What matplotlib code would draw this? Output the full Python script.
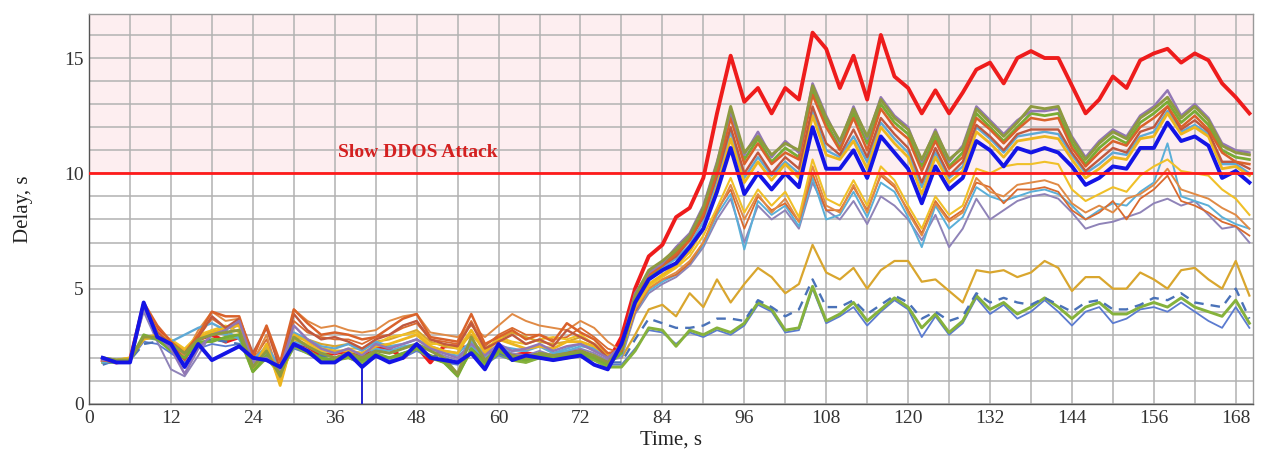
import matplotlib
matplotlib.use("Agg")
import matplotlib.pyplot as plt
import numpy as np

plt.rcParams['font.family'] = ['Liberation Serif', 'DejaVu Serif']

# ---- data ----
time_pre = [2, 4, 6, 8, 10, 12, 14, 16, 18, 20, 22, 24, 26, 28, 30, 32, 34, 36, 38, 40,
            42, 44, 46, 48, 50, 52, 54, 56, 58, 60, 62, 64, 66, 68, 70, 72, 74, 76]
time_att = [78, 80, 82, 84, 86, 88, 90, 92, 94, 96, 98, 100, 102, 104, 106, 108, 110, 112,
            114, 116, 118, 120, 122, 124, 126, 128, 130, 132, 134, 136, 138, 140, 142, 144,
            146, 148, 150, 152, 154, 156, 158, 160, 162, 164, 166, 168, 170]
time = time_pre + time_att

red_pre = [1.9,1.8,1.9,4.3,3.2,2.7,2.0,2.8,3.0,2.7, 2.9,2.1,2.2,1.4,2.7,2.5,2.1,2.2,2.3,2.0,
           2.5,2.4,2.0,2.5,1.8,2.5,2.5,2.4,1.9,2.5, 2.1,2.2,2.1,2.1,2.2,2.3,2.0,1.8]
red_att = [2.9,5.0,6.4,6.9,8.1,8.5,9.8,12.6,15.1,13.1, 13.7,12.6,13.7,13.2,16.1,15.4,13.7,15.1,
           13.2,16.0, 14.2,13.7,12.6,13.6,12.6,13.5,14.5,14.8,13.9,15.0, 15.3,15.0,15.0,13.8,
           12.6,13.2,14.2,13.7,14.9,15.2, 15.4,14.8,15.2,14.9,13.9,13.3,12.6]

blue_pre = [2.0,1.8,1.8,4.4,2.9,2.6,1.6,2.6,1.9,2.2, 2.5,2.0,1.9,1.6,2.6,2.3,1.8,1.8,2.2,1.6,
            2.1,1.8,2.0,2.6,2.0,1.9,1.8,2.2,1.5,2.6, 1.9,2.1,2.0,1.9,2.0,2.1,1.7,1.5]
blue_att = [2.6,4.4,5.4,5.8,6.1,6.8,7.6,9.2,11.1,9.1, 10.0,9.3,10.0,9.4,12.0,10.2,10.2,11.0,9.8,
            11.6, 10.9,10.2,8.7,10.3,9.3,9.8,11.4,11.0,10.3,11.1, 10.9,11.1,10.9,10.3,9.5,9.8,
            10.3,10.2,11.1,11.1, 12.2,11.4,11.6,11.2,9.8,10.1,9.6]

olive_pre = [2.0,1.9,1.9,2.9,2.9,2.6,2.2,2.8,3.0,3.1, 3.2,1.6,2.3,1.2,2.9,2.5,2.2,2.0,2.2,2.0,
             2.3,2.2,2.4,2.6,2.3,2.0,1.3,2.9,1.9,2.4, 2.1,2.0,2.2,2.1,2.2,2.3,2.1,1.8]
olive_att = [2.4,4.7,5.8,6.2,6.7,7.3,8.5,10.4,12.9,10.9, 11.6,10.8,11.3,11.0,13.8,12.4,11.4,12.8,
             11.6,13.2, 12.4,11.9,10.6,11.8,10.6,11.1,12.8,12.2,11.6,12.2, 12.9,12.8,12.9,11.5,
             10.6,11.3,11.8,11.5,12.4,12.8, 13.3,12.4,12.9,12.3,11.2,10.9,10.8]

purple_pre = [1.9,1.9,1.9,4.2,3.0,2.4,1.3,2.4,3.0,3.2, 3.6,1.8,2.0,1.5,3.4,2.8,2.4,2.2,2.4,2.1,
              2.6,2.4,2.6,2.8,2.4,2.2,2.0,2.6,2.1,2.6, 2.3,2.4,2.6,2.3,2.5,2.6,2.3,2.0]
purple_att = [2.5,4.8,5.7,6.1,6.8,7.4,8.6,10.5,12.7,10.8, 11.8,10.7,11.4,10.9,13.9,12.5,11.3,12.9,
              11.5,13.3, 12.5,12.0,10.5,11.9,10.5,11.2,12.9,12.3,11.7,12.3, 12.7,12.7,12.8,11.6,
              10.7,11.4,11.9,11.6,12.5,12.9, 13.6,12.5,13.0,12.4,11.3,11.0,10.9]

orange_pre = [1.9,1.8,1.9,4.4,3.4,2.7,2.2,3.0,4.0,3.8, 3.8,2.0,3.4,1.8,4.1,3.5,3.0,3.1,3.0,2.8,
              2.9,3.3,3.7,3.9,2.9,2.8,2.7,3.9,2.6,2.9, 3.2,2.8,3.0,2.7,3.5,3.1,2.8,2.2]
orange_att = [2.3,4.6,5.6,6.0,6.5,7.1,8.2,10.0,12.4,10.4, 11.3,10.4,10.9,10.6,13.4,12.0,11.0,12.4,
              11.0,12.8, 12.0,11.5,10.1,11.4,10.2,10.7,12.4,11.9,11.3,11.9, 12.4,12.3,12.4,11.1,
              10.3,10.9,11.4,11.2,12.0,12.4, 12.9,12.0,12.5,11.9,10.9,10.5,10.4]

green_pre = [2.0,1.9,1.9,3.0,2.8,2.3,2.0,2.7,2.7,2.9, 3.0,1.4,2.1,1.3,2.6,2.3,2.0,1.9,2.1,1.9,
             2.2,2.0,2.2,2.4,2.1,1.8,1.2,2.4,1.8,2.3, 2.0,1.9,2.1,2.0,2.1,2.2,2.0,1.7]
green_att = [2.2,4.5,5.5,6.0,6.6,7.2,8.3,10.2,12.6,10.6, 11.5,10.5,11.1,10.7,13.6,12.2,11.1,12.6,
             11.3,13.0, 12.2,11.7,10.3,11.6,10.3,10.9,12.6,12.0,11.4,12.0, 12.6,12.5,12.6,11.3,
             10.4,11.1,11.6,11.3,12.2,12.6, 13.1,12.2,12.7,12.1,11.0,10.7,10.6]

darkred_pre = [1.9,1.8,1.9,4.3,3.1,2.6,1.9,2.9,3.8,3.3, 3.7,2.2,3.3,1.5,3.9,3.2,2.8,2.9,2.7,2.4,
               2.8,3.0,3.4,3.6,2.8,2.6,2.5,3.5,2.4,2.7, 3.0,2.6,2.8,2.5,3.2,2.9,2.6,2.0]
darkred_att = [2.5,4.6,5.6,6.0,6.4,7.1,8.1,9.9,12.0,10.0, 10.9,10.0,10.7,10.2,12.9,11.3,10.8,11.9,
               10.7,12.4, 11.7,11.1,9.6,11.1,9.9,10.5,12.1,11.6,11.0,11.7, 11.9,11.9,11.9,10.9,
               10.1,10.6,11.1,10.9,11.8,12.0, 12.9,11.9,12.3,11.8,10.5,10.5,10.2]

yellow_pre = [1.9,1.9,2.0,2.8,3.0,2.7,2.3,2.9,3.1,3.3, 3.4,1.5,2.6,0.8,3.0,2.7,2.4,2.3,2.3,2.2,
              2.5,2.6,2.8,3.0,2.5,2.3,2.2,3.2,2.2,2.8, 2.6,2.4,2.5,2.4,2.7,2.7,2.5,2.1]
yellow_att = [2.3,4.3,5.2,5.6,6.0,6.6,7.6,9.4,11.5,9.6, 10.5,9.7,10.4,9.8,12.5,10.8,10.6,11.4,
              10.2,12.0, 11.3,10.7,9.1,10.7,9.6,10.1,11.8,11.3,10.7,11.4, 11.5,11.6,11.5,10.6,
              9.8,10.2,10.7,10.6,11.5,11.6, 12.6,11.7,12.0,11.6,10.2,10.3,9.9]

lblue_pre = [1.9,1.8,1.9,4.2,3.0,2.7,3.0,3.3,3.5,3.2, 2.8,1.9,2.5,1.6,3.1,2.8,2.5,2.4,2.6,2.3,
             2.7,2.5,2.6,2.8,2.5,2.3,2.2,2.7,2.2,2.5, 2.4,2.3,2.5,2.2,2.4,2.6,2.4,2.0]
lblue_att = [2.4,4.5,5.4,5.9,6.3,6.9,7.9,9.7,11.8,9.8, 10.7,9.9,10.5,10.0,12.7,11.0,10.7,11.6,
             10.5,12.2, 11.5,10.9,9.4,10.9,9.8,10.3,12.0,11.5,10.9,11.6, 11.7,11.8,11.7,10.8,
             10.0,10.4,10.9,10.8,11.6,11.8, 12.7,11.8,12.1,11.7,10.4,10.4,10.0]

low_yellow_pre = [1.9,1.9,2.0,2.9,3.0,2.8,2.4,3.0,3.2,3.4, 3.1,1.5,2.4,0.9,2.8,2.6,2.3,2.2,2.4,2.4,
                  2.6,2.9,3.0,3.1,2.6,2.6,2.4,3.2,2.3,2.9, 2.7,2.6,2.8,2.9,2.8,3.0,2.6,2.2]
low_yellow_att = [2.2,4.2,5.1,5.5,5.9,6.4,7.3,8.5,9.8,8.3, 9.3,8.6,9.2,8.1,10.6,8.9,8.6,9.7,8.6,
                  10.3, 9.7,8.6,7.6,9.0,8.2,8.6,10.2,10.0,10.3,10.4, 10.4,10.5,10.4,9.3,8.8,9.1,
                  9.4,9.2,9.9,10.3, 10.6,10.1,10.0,9.9,9.3,8.9,8.2]

low_orange_pre = [1.9,1.8,1.9,4.3,3.2,2.6,2.1,3.2,4.0,3.6, 3.7,1.8,3.0,1.0,4.1,3.6,3.3,3.4,3.2,3.1,
                  3.2,3.6,3.8,3.9,3.1,3.0,2.9,3.4,2.9,3.4, 3.9,3.6,3.4,3.3,3.2,3.6,3.3,2.7]
low_orange_att = [2.3,4.1,5.0,5.4,5.7,6.2,7.0,8.3,9.5,8.0, 9.1,8.3,8.9,7.9,10.3,8.6,8.3,9.5,8.3,
                  10.0, 9.5,8.3,7.3,8.7,7.9,8.3,9.8,9.2,9.0,9.5, 9.6,9.7,9.5,8.7,8.3,8.6,8.3,8.9,
                  9.1,9.5, 10.2,9.3,9.1,8.9,8.5,8.2,7.6]

low_lblue_pre = [1.8,1.8,1.9,2.9,2.8,2.5,2.0,2.7,3.2,3.0, 2.9,1.7,2.2,1.3,2.7,2.5,2.2,2.3,2.3,2.2,
                 2.4,2.3,2.5,2.6,2.4,2.2,2.1,2.5,2.0,2.4, 2.3,2.3,2.6,2.2,2.3,2.5,2.4,2.0]
low_lblue_att = [2.1,4.0,4.9,5.3,5.6,6.1,6.9,8.2,9.1,6.7, 8.8,8.2,8.6,7.7,9.8,8.0,8.2,9.2,8.1,9.6,
                 9.2,8.1,6.8,8.6,7.6,8.1,9.4,9.0,8.8,9.0, 9.2,9.3,9.1,8.6,8.0,8.4,8.7,8.6,9.2,9.6,
                 11.3,9.0,8.8,8.6,8.1,7.8,7.6]

low_purple_pre = [1.9,1.8,1.9,4.0,2.7,1.5,1.2,2.1,3.1,3.0, 3.5,1.6,2.3,1.4,2.8,2.5,2.2,2.0,2.2,1.9,
                  2.4,2.2,2.4,2.6,2.3,2.1,1.9,2.5,2.0,2.4, 2.2,2.1,2.3,2.1,2.3,2.4,2.2,1.9]
low_purple_att = [2.0,3.9,4.8,5.2,5.5,6.0,6.8,8.0,8.9,7.0, 8.6,8.0,8.4,7.6,9.6,8.4,8.0,8.8,7.8,9.0,
                  8.6,8.0,7.1,8.2,6.8,7.6,8.9,8.0,8.4,8.8, 9.0,9.1,8.9,8.3,7.6,7.8,7.9,8.1,8.3,8.7,
                  8.9,8.6,8.8,8.2,7.6,7.7,7.0]

low_orange2_pre = [1.9,1.8,1.9,4.2,3.1,2.6,2.0,2.9,3.7,3.3, 3.5,1.9,2.8,1.2,3.6,3.1,2.9,2.8,2.8,2.6,
                   2.9,3.0,3.3,3.5,2.8,2.7,2.6,3.6,2.5,3.0, 3.3,3.0,3.0,2.8,2.9,3.3,2.9,2.4]
low_orange2_att = [2.2,4.0,5.0,5.4,5.6,6.1,7.0,8.4,9.3,7.6, 9.0,8.4,8.7,7.9,10.0,8.4,8.4,9.4,8.4,
                   9.9, 9.4,8.4,7.4,8.8,8.0,8.4,9.6,9.4,8.7,9.3, 9.3,9.4,9.2,8.4,8.0,8.3,8.8,8.0,
                   8.9,9.3, 9.9,8.8,8.6,8.3,7.9,7.7,7.3]

gold_pre = [1.9,1.9,2.0,2.8,2.9,2.6,2.2,2.8,3.2,3.0, 3.0,1.6,2.5,1.0,2.9,2.8,2.6,2.5,2.6,2.4,
            2.7,2.8,3.0,3.2,2.7,2.5,2.4,3.0,2.4,2.8, 3.1,2.9,2.7,2.6,2.7,2.9,2.6,2.1]
gold_att = [2.0,3.0,4.1,4.3,3.8,4.8,4.2,5.4,4.4,5.2, 5.9,5.5,4.8,5.2,6.9,5.7,5.4,5.9,5.0,5.8,
            6.2,6.2,5.3,5.4,4.9,4.4,5.8,5.7,5.8,5.5, 5.7,6.2,5.9,4.9,5.5,5.5,5.0,5.0,5.7,5.4,
            5.0,5.8,5.9,5.4,5.0,6.2,4.7]

dash_pre = [1.7,1.9,1.9,2.6,2.7,2.5,2.1,2.6,2.8,2.7, 2.6,1.8,2.1,1.5,2.5,2.3,2.1,2.0,2.1,1.9,
            2.1,2.0,2.2,2.4,2.1,2.0,1.8,2.3,1.8,2.2, 2.0,2.0,2.1,2.0,2.1,2.2,2.0,1.8]
dash_att = [1.8,2.8,3.7,3.5,3.3,3.3,3.4,3.7,3.7,3.6, 4.5,4.2,3.8,4.1,5.4,4.2,4.2,4.5,3.9,4.3,
            4.7,4.4,3.7,4.0,3.6,3.8,4.8,4.4,4.6,4.4, 4.3,4.6,4.3,4.0,4.4,4.5,4.1,4.1,4.3,4.6,
            4.5,4.8,4.4,4.3,4.2,5.0,3.7]

lgreen_pre = [1.8,1.8,1.9,2.9,2.8,2.4,2.1,2.6,2.8,2.8, 2.9,1.4,2.0,1.3,2.5,2.2,1.9,1.9,2.0,1.8,
              2.1,2.0,2.1,2.4,2.0,1.8,1.3,2.3,1.7,2.2, 1.9,1.8,2.0,1.9,2.0,2.1,1.9,1.6]
lgreen_att = [1.6,2.3,3.3,3.2,2.5,3.2,3.0,3.3,3.1,3.5, 4.4,4.1,3.2,3.3,5.1,3.6,3.9,4.4,3.6,4.1,
              4.6,4.2,3.3,3.9,3.1,3.6,4.7,4.1,4.4,3.9, 4.2,4.6,4.2,3.7,4.2,4.4,3.9,3.9,4.2,4.4,
              4.2,4.6,4.2,4.0,3.8,4.5,3.5]

tblue_pre = [1.8,1.8,1.9,2.7,2.6,2.2,1.8,2.4,2.6,2.5, 2.6,1.7,2.0,1.5,2.4,2.2,2.0,1.9,2.0,1.7,
             2.0,1.9,2.0,2.3,2.0,1.8,1.7,2.2,1.7,2.1, 1.9,1.8,2.0,1.9,2.0,2.1,1.9,1.7]
tblue_att = [1.7,2.4,3.2,3.1,2.6,3.1,2.9,3.2,3.0,3.4, 4.3,4.0,3.1,3.2,5.0,3.5,3.8,4.2,3.4,4.0,
             4.5,4.1,2.9,3.8,3.0,3.5,4.6,3.9,4.3,3.7, 4.0,4.5,4.0,3.4,4.0,4.2,3.5,3.7,4.1,4.2,
             4.0,4.4,4.0,3.6,3.3,4.2,3.3]

drop_time = [40, 40]
drop_vals = [1.6, -0.5]

threshold = 10
annotation = "Slow DDOS Attack"

# ---- styles ----
series = [
    (tblue_pre + tblue_att, '#5B7BD0', 1.3, '-'),
    (lgreen_pre + lgreen_att, '#86B23C', 2.1, '-'),
    (dash_pre + dash_att, '#4A72B8', 1.7, (0, (4, 3))),
    (gold_pre + gold_att, '#D9A62E', 1.6, '-'),
    (low_purple_pre + low_purple_att, '#8F83B8', 1.4, '-'),
    (low_lblue_pre + low_lblue_att, '#5AAFD8', 1.4, '-'),
    (low_orange2_pre + low_orange2_att, '#D96A2E', 1.3, '-'),
    (low_orange_pre + low_orange_att, '#E08A45', 1.4, '-'),
    (low_yellow_pre + low_yellow_att, '#F0C028', 1.5, '-'),
    (lblue_pre + lblue_att, '#5EA9D6', 1.7, '-'),
    (yellow_pre + yellow_att, '#EDB61F', 2.0, '-'),
    (darkred_pre + darkred_att, '#C0583E', 1.7, '-'),
    (green_pre + green_att, '#78AC34', 2.0, '-'),
    (orange_pre + orange_att, '#D9622B', 1.8, '-'),
    (purple_pre + purple_att, '#9277B5', 1.8, '-'),
    (olive_pre + olive_att, '#8E9A40', 2.1, '-'),
]

fig = plt.figure(figsize=(12.65, 4.58), dpi=100)
ax = fig.add_axes([0.0704, 0.118, 0.9205, 0.851])

ax.axhspan(threshold, 17, color='#FDEEF0', zorder=0)

ax.plot(time, red_pre + red_att, color='#EE1C1C', lw=2.8, zorder=2.5)
for vals, col, lw, ls in series:
    ax.plot(time, vals, color=col, lw=lw, ls=ls, zorder=3)
ax.plot(drop_time, drop_vals, color='#2020D0', lw=1.4, zorder=3)
ax.plot(time, blue_pre + blue_att, color='#1414E6', lw=2.8, zorder=4)

ax.axhline(threshold, color='#FF1A1A', lw=2.0, zorder=6)
ax.text(48.2, 10.9, annotation, color='#D42020', fontsize=14, fontweight='bold',
        ha='center', va='center', zorder=7)

ax.set_xlim(0, 170.6)
ax.set_ylim(0, 16.9)
ax.set_xticks(np.arange(0, 169, 12))
ax.set_xticks(np.arange(0, 171, 6), minor=True)
ax.set_yticks([0, 5, 10, 15])
ax.set_yticks(np.arange(0, 17, 1), minor=True)
ax.grid(True, which='both', color='#B2B2B2', lw=1.1, zorder=1)
ax.set_axisbelow(True)
ax.tick_params(which='both', length=0, labelsize=14, colors='#333333', pad=4)
for s in ax.spines.values():
    s.set_color('#999999')
    s.set_linewidth(1.0)
ax.spines['left'].set_color('#555555')
ax.spines['bottom'].set_color('#555555')

ax.set_xlabel('Time, s', fontsize=15, color='#222222', labelpad=3)
ax.set_ylabel('Delay, s', fontsize=15, color='#222222', labelpad=22)

fig.savefig('out.png', dpi=100)
